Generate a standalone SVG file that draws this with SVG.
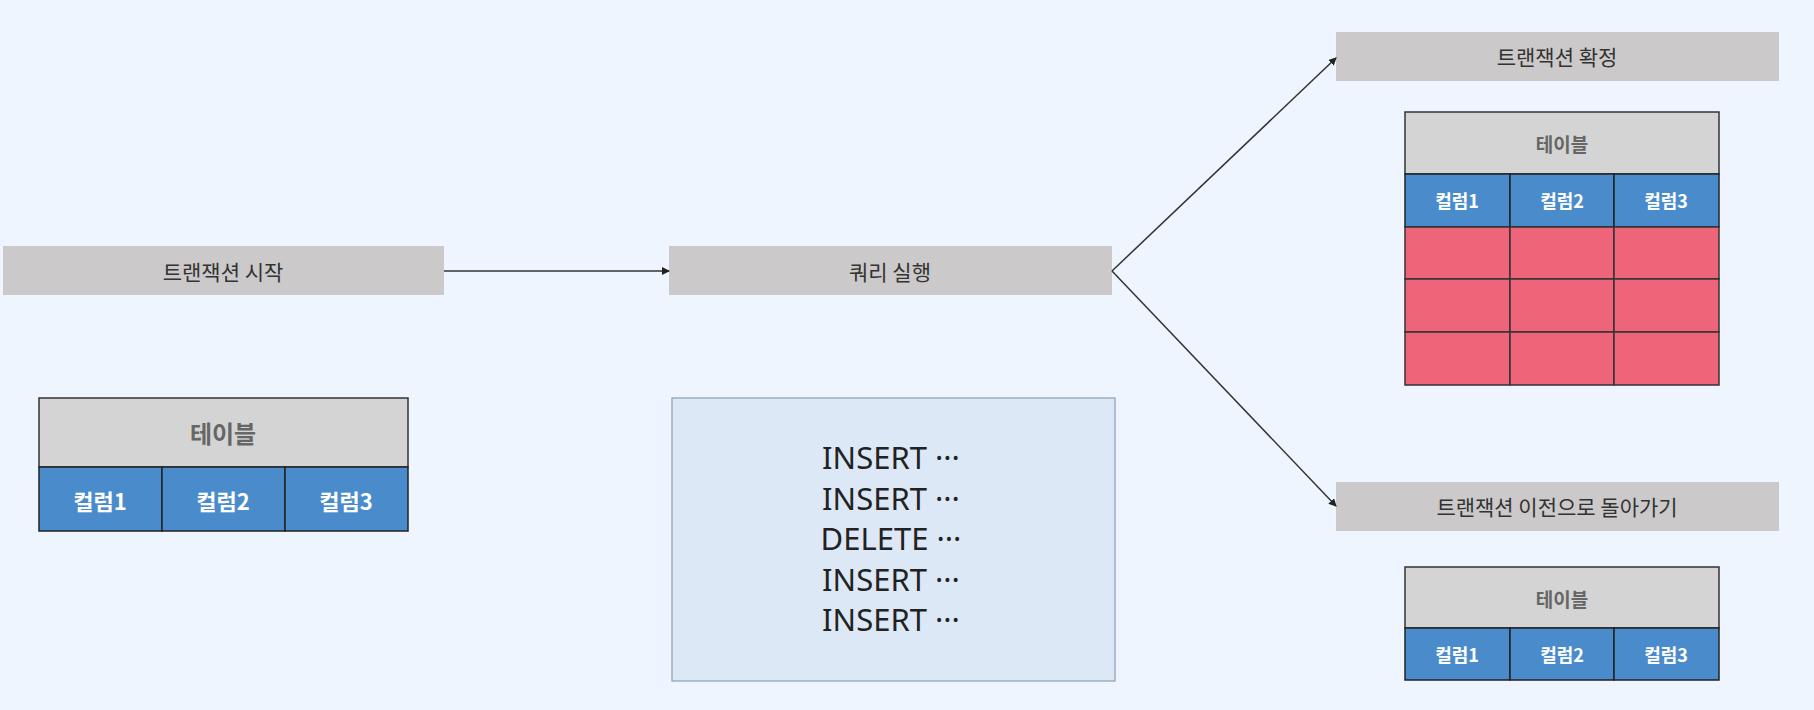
<svg xmlns="http://www.w3.org/2000/svg" width="1814" height="710" viewBox="0 0 1814 710">
<defs>
<marker id="ah" markerWidth="8" markerHeight="8" refX="7" refY="4" orient="auto" markerUnits="userSpaceOnUse"><path d="M0,0 L8,4 L0,8 z" fill="#222"/></marker>
<style>
.bar{fill:#cbc9c9}
.bt{font-family:"Noto Sans CJK KR","Noto Sans",sans-serif;font-size:21px;fill:#333;text-anchor:middle;dominant-baseline:central}
.th{fill:#d4d4d4;stroke:#333;stroke-width:1.5}
.tc{fill:#4a8ccb;stroke:#222;stroke-width:1.5}
.tr{fill:#ee6478;stroke:#333;stroke-width:1.5}
.tht{font-family:"Noto Sans CJK KR",sans-serif;font-weight:bold;fill:#666;text-anchor:middle;dominant-baseline:central}
.tct{font-family:"Noto Sans CJK KR",sans-serif;font-weight:bold;fill:#fff;text-anchor:middle;dominant-baseline:central}
.q{font-family:"Noto Sans","Noto Sans CJK KR",sans-serif;font-size:31px;fill:#222;text-anchor:middle}
.c{stroke:#333;stroke-width:1.5;fill:none;marker-end:url(#ah)}
</style>
</defs>
<rect width="1814" height="710" fill="#eef5fe"/>
<g id="start"><rect class="bar" x="3" y="246" width="441" height="49"/><text class="bt" x="223" y="271">트랜잭션 시작</text></g>
<g id="query"><rect class="bar" x="669" y="246" width="443" height="49"/><text class="bt" x="890" y="271">쿼리 실행</text></g>
<g id="commit"><rect class="bar" x="1336" y="32" width="443" height="49"/><text class="bt" x="1557" y="56">트랜잭션 확정</text></g>
<g id="rollback"><rect class="bar" x="1336" y="482" width="443" height="49"/><text class="bt" x="1557" y="506">트랜잭션 이전으로 돌아가기</text></g>
<g id="table-left">
<rect class="th" x="39" y="398" width="369" height="69"/><text class="tht" x="223" y="432" font-size="24">테이블</text>
<rect class="tc" x="39" y="467" width="123" height="64"/><rect class="tc" x="162" y="467" width="123" height="64"/><rect class="tc" x="285" y="467" width="123" height="64"/>
<text class="tct" x="100" y="500" font-size="22">컬럼1</text><text class="tct" x="223" y="500" font-size="22">컬럼2</text><text class="tct" x="346" y="500" font-size="22">컬럼3</text>
</g>
<g id="query-box">
<rect x="672" y="398" width="443" height="283" fill="#dce8f5" stroke="#8a9fb5" stroke-width="1.2"/>
<text class="q" x="891" y="469">INSERT ···</text>
<text class="q" x="891" y="510">INSERT ···</text>
<text class="q" x="891" y="550">DELETE ···</text>
<text class="q" x="891" y="591">INSERT ···</text>
<text class="q" x="891" y="631">INSERT ···</text>
</g>
<g id="table-commit">
<rect class="th" x="1405" y="112" width="314" height="62"/><text class="tht" x="1562" y="143" font-size="19">테이블</text>
<rect class="tc" x="1405" y="174" width="105" height="53"/><rect class="tc" x="1510" y="174" width="104" height="53"/><rect class="tc" x="1614" y="174" width="105" height="53"/>
<text class="tct" x="1457" y="200" font-size="18">컬럼1</text><text class="tct" x="1562" y="200" font-size="18">컬럼2</text><text class="tct" x="1666" y="200" font-size="18">컬럼3</text>
<rect class="tr" x="1405" y="227" width="105" height="52"/><rect class="tr" x="1510" y="227" width="104" height="52"/><rect class="tr" x="1614" y="227" width="105" height="52"/>
<rect class="tr" x="1405" y="279" width="105" height="53"/><rect class="tr" x="1510" y="279" width="104" height="53"/><rect class="tr" x="1614" y="279" width="105" height="53"/>
<rect class="tr" x="1405" y="332" width="105" height="53"/><rect class="tr" x="1510" y="332" width="104" height="53"/><rect class="tr" x="1614" y="332" width="105" height="53"/>
</g>
<g id="table-rollback">
<rect class="th" x="1405" y="567" width="314" height="61"/><text class="tht" x="1562" y="598" font-size="19">테이블</text>
<rect class="tc" x="1405" y="628" width="105" height="52"/><rect class="tc" x="1510" y="628" width="104" height="52"/><rect class="tc" x="1614" y="628" width="105" height="52"/>
<text class="tct" x="1457" y="654" font-size="18">컬럼1</text><text class="tct" x="1562" y="654" font-size="18">컬럼2</text><text class="tct" x="1666" y="654" font-size="18">컬럼3</text>
</g>
<g id="connectors">
<line class="c" x1="444" y1="271" x2="669" y2="271"/>
<line class="c" x1="1112" y1="271" x2="1336" y2="58"/>
<line class="c" x1="1112" y1="271" x2="1336" y2="506"/>
</g>
</svg>
